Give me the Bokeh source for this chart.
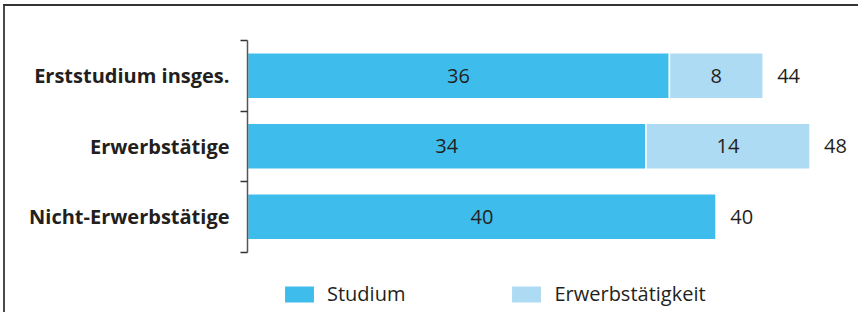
from bokeh.plotting import figure
from bokeh.models import ColumnDataSource, FixedTicker, Legend, LegendItem, Range1d
from bokeh.core.properties import value
from bokeh.embed import file_html
from bokeh.resources import INLINE

categories = ["Erststudium insges.", "Erwerbstätige", "Nicht-Erwerbstätige"]
studium = [36, 34, 40]
erwerb = [8, 14, 0]
series_names = ["Studium", "Erwerbstätigkeit"]

C_STUD = "#3EBDEC"
C_ERW = "#ADDBF4"
TXT = "#231F20"
FONT = "Open Sans"

W, H = 858, 312
LEFT, TOP, RIGHT = 247, 40, 857
PX_PER_UNIT_X = 11.72
PX_PER_ROW = 70.5

n = len(categories)
ypos = [n - i - 0.5 for i in range(n)]
totals = [a + b for a, b in zip(studium, erwerb)]

src = ColumnDataSource(dict(
    y=ypos, studium=studium, erwerb=erwerb,
    erw_left=studium, erw_right=totals, totals=totals,
    stud_mid=[s / 2 for s in studium],
    erw_mid=[s + e / 2 for s, e in zip(studium, erwerb)],
    stud_lbl=[str(s) for s in studium],
    erw_lbl=[str(e) if e else "" for e in erwerb],
    tot_lbl=[str(t) for t in totals],
))

p = figure(width=W, height=H, output_backend="svg", toolbar_location=None,
           x_range=Range1d(0, (RIGHT - LEFT) / PX_PER_UNIT_X),
           y_range=Range1d(n - (H - TOP) / PX_PER_ROW, n),
           min_border_left=LEFT, min_border_right=W - RIGHT, min_border_top=TOP,
           min_border_bottom=0)
p.border_fill_alpha = 0
p.background_fill_alpha = 0
p.styles = {"background": "linear-gradient(#333333,#333333) 3px 4px / 860px 2px no-repeat, "
                          "linear-gradient(#4a4a4a,#4a4a4a) 3px 4px / 2px 400px no-repeat, #ffffff"}
p.outline_line_color = None
p.xgrid.visible = False
p.ygrid.visible = False
p.xaxis.visible = False

r1 = p.hbar(y="y", left=0, right="studium", height=0.65, source=src,
            fill_color=C_STUD, line_color="white", line_width=1.5)
r2 = p.hbar(y="y", left="erw_left", right="erw_right", height=0.65, source=src,
            fill_color=C_ERW, line_color="white", line_width=1.5)

lbl_kw = dict(source=src, text_baseline="middle", text_font_size="20px",
              text_color=TXT, text_font=value(FONT))
p.text(x="stud_mid", y="y", text="stud_lbl", text_align="center", **lbl_kw)
p.text(x="erw_mid", y="y", text="erw_lbl", text_align="center", **lbl_kw)
p.text(x="totals", y="y", text="tot_lbl", text_align="left", x_offset=14, **lbl_kw)

ax = p.yaxis[0]
ax.bounds = (0, n)
ax.ticker = FixedTicker(ticks=ypos, minor_ticks=[float(i) for i in range(n + 1)])
ax.major_label_overrides = {y: c for y, c in zip(ypos, categories)}
ax.major_tick_out = 0
ax.major_tick_in = 0
ax.minor_tick_out = 7
ax.minor_tick_in = 0
ax.minor_tick_line_color = "#333333"
ax.minor_tick_line_width = 1.5
ax.axis_line_color = "#555555"
ax.axis_line_width = 1.5
ax.major_label_standoff = 11
ax.major_label_text_font = FONT
ax.major_label_text_font_style = "bold"
ax.major_label_text_font_size = "20px"
ax.major_label_text_color = TXT

legend = Legend(items=[LegendItem(label=series_names[0], renderers=[r1]),
                       LegendItem(label=series_names[1], renderers=[r2])],
                orientation="horizontal", location=(33, 5),
                glyph_width=38, glyph_height=22, label_standoff=9, spacing=102,
                padding=0, margin=0, border_line_color=None, background_fill_alpha=0,
                label_text_font=FONT, label_text_font_size="20px", label_text_color=TXT)
p.add_layout(legend, "center")

open("out.html", "w").write(file_html(p, INLINE))
